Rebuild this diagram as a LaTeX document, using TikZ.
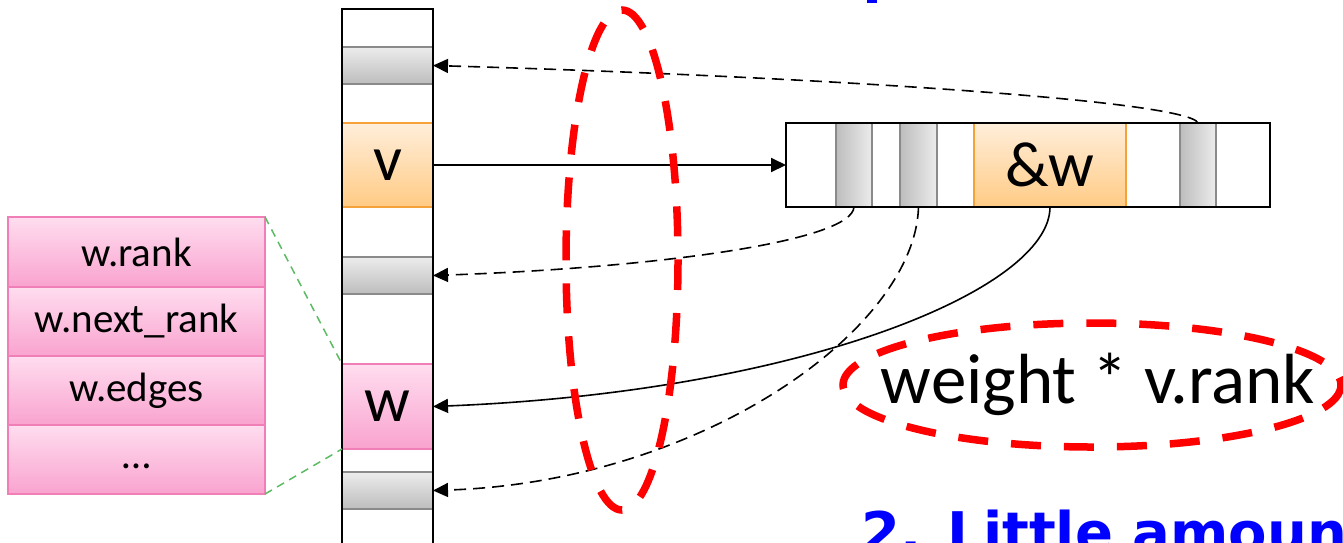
\documentclass[tikz,border=0pt]{standalone}
\usepackage{fontspec}
\setmainfont{Carlito}
\newfontfamily\bluefont{DejaVu Sans}
\usetikzlibrary{arrows.meta}
\definecolor{orTop}{HTML}{FFEEDA}
\definecolor{orBot}{HTML}{FFCB85}
\definecolor{orLine}{HTML}{F5A23A}
\definecolor{pkTop}{HTML}{FFDDEF}
\definecolor{pkBot}{HTML}{F9A3CF}
\definecolor{pkLine}{HTML}{EF7FB6}
\definecolor{gyLight}{HTML}{ECECEC}
\definecolor{gyDark}{HTML}{BDBDBD}
\definecolor{gyLine}{HTML}{8A8A8A}
\definecolor{grLine}{HTML}{5DBB63}
\definecolor{myblue}{HTML}{0000FF}
\definecolor{myred}{HTML}{FF0000}
\tikzset{
  cellbase/.style={inner sep=0pt, outer sep=0pt, anchor=north west},
  vgray/.style={cellbase, top color=gyLight, bottom color=gyDark, draw=gyLine, line width=1.5pt},
  hgray/.style={cellbase, left color=gyDark, right color=gyLight, draw=gyLine, line width=1.5pt},
  orcell/.style={cellbase, top color=orTop, bottom color=orBot, draw=orLine, line width=1.5pt,
     font=\fontsize{64}{70}\selectfont},
  pkcell/.style={cellbase, top color=pkTop, bottom color=pkBot, draw=pkLine, line width=1.5pt},
  bigtxt/.style={font=\fontsize{64}{70}\selectfont},
  rowtxt/.style={font=\fontsize{41}{46}\selectfont},
  thindash/.style={line width=1.6pt, dash pattern=on 12pt off 7pt},
  tip/.style={-{Triangle[length=15pt,width=14pt]}},
  reddash/.style={draw=myred, line width=7.5pt, dash pattern=on 30pt off 23pt},
  greendash/.style={draw=grLine, line width=1.5pt, dash pattern=on 8pt off 6pt},
}
\begin{document}
\begin{tikzpicture}[x=1pt,y=-1pt]
\useasboundingbox (0,0) rectangle (1343,542);
\clip (0,0) rectangle (1343,542);
% column cells
\node[vgray, minimum width=91pt, minimum height=37pt] (g1) at (342,47) {};
\node[orcell, minimum width=91pt, minimum height=84pt] (v) at (342,123) {v};
\node[vgray, minimum width=91pt, minimum height=37pt] (g2) at (342,257) {};
\node[pkcell, minimum width=91pt, minimum height=85pt, bigtxt] (w) at (342,364) {w};
\node[vgray, minimum width=91pt, minimum height=37pt] (g3) at (342,472) {};
\node[cellbase, draw=black, line width=2pt, minimum width=91pt, minimum height=560pt] (col) at (342,9) {};
% right array
\node[hgray, minimum width=36pt, minimum height=84pt] (a1) at (836,123) {};
\node[hgray, minimum width=37pt, minimum height=84pt] (a2) at (900,123) {};
\node[orcell, minimum width=152pt, minimum height=84pt] (aw) at (974,123) {\&w};
\node[hgray, minimum width=36pt, minimum height=84pt] (a3) at (1180,123) {};
\node[cellbase, draw=black, line width=2pt, minimum width=484pt, minimum height=84pt] (arr) at (786,123) {};
% left record
\node[pkcell, minimum width=257pt, minimum height=70pt, rowtxt] (r1) at (8,217) {w.rank};
\node[pkcell, minimum width=257pt, minimum height=69pt, rowtxt] (r2) at (8,287) {w.next\_rank};
\node[pkcell, minimum width=257pt, minimum height=69pt, rowtxt] (r3) at (8,356) {w.edges};
\node[pkcell, minimum width=257pt, minimum height=69pt, rowtxt] (r4) at (8,425) {\raisebox{-18pt}{…}};
\draw[greendash] (r1.north east) -- (w.north west);
\draw[greendash] (r4.south east) -- (w.south west);
% connectors
\draw[thindash, tip] (a3.north) .. controls (1188,100) and (800,76) .. (g1.east);
\draw[line width=2pt, tip] (v.east) -- (arr.west);
\draw[thindash, tip] (a1.south) .. controls (852,242) and (650,268) .. (g2.east);
\draw[thindash, tip] (a2.south) .. controls (915,330) and (700,482) .. (g3.east);
\draw[line width=1.6pt, tip] (aw.south) .. controls (1050,290) and (800,392) .. (w.east);
% red ellipses
\draw[reddash] (622,260) ellipse [x radius=56, y radius=250];
\node[bigtxt, font=\fontsize{71}{76}\selectfont] (formula) at (1098,384) {weight * v.rank};
\draw[reddash] (1092,385) ellipse [x radius=249, y radius=62];
% blue text fragments
\fill[myblue] (867,0) rectangle (877,3);
\node[anchor=base west, inner sep=0pt, text=myblue, font=\bluefont\bfseries\fontsize{56}{60}\selectfont] (title2) at (861,552) {2. Little amount};
\end{tikzpicture}
\end{document}
